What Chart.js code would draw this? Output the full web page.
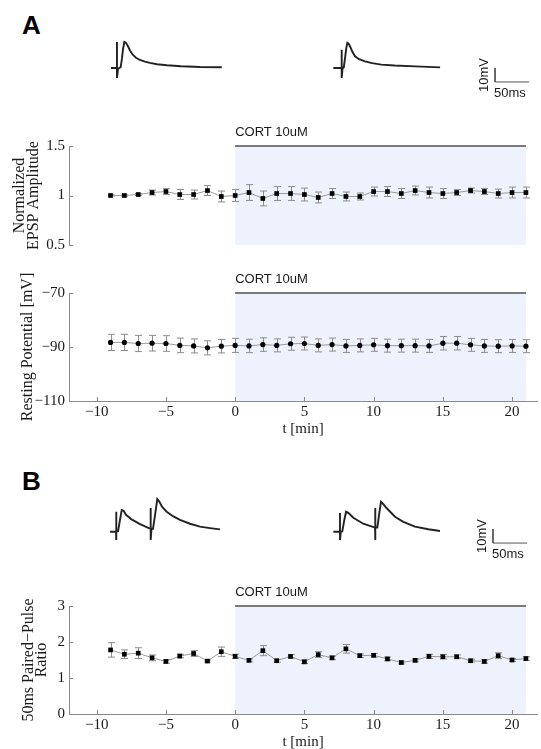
<!DOCTYPE html>
<html>
<head>
<meta charset="utf-8">
<script src="https://cdn.jsdelivr.net/npm/chart.js@4.4.1/dist/chart.umd.min.js"></script>
<style>
  body { margin: 0; background: #fff; }
  #fig { position: relative; width: 541px; height: 749px; overflow: hidden; font-family: "Liberation Sans", Arial, sans-serif; }
  #fig canvas { position: absolute; left: 0; }
  .tag { position: absolute; left: 22px; font-weight: bold; font-size: 26px; line-height: 1; color: #000; }
</style>
</head>
<body>
<div id="fig">
  <div class="tag" style="top:12px">A</div>
  <canvas id="traceA" width="541" height="70" style="top:30px"></canvas>
  <canvas id="epsp" width="541" height="140" style="top:118px"></canvas>
  <canvas id="rest" width="541" height="180" style="top:265px"></canvas>
  <div class="tag" style="top:468px">B</div>
  <canvas id="traceB" width="541" height="70" style="top:490px"></canvas>
  <canvas id="ppr" width="541" height="180" style="top:578px"></canvas>
</div>
<script>
// time points, minutes
const minutes = [-9, -8, -7, -6, -5, -4, -3, -2, -1, 0, 1, 2, 3, 4, 5, 6, 7, 8, 9, 10,
  11, 12, 13, 14, 15, 16, 17, 18, 19, 20, 21];

// normalized EPSP amplitude + sem
const epspAmp = [1.00, 1.00, 1.01, 1.03, 1.04, 1.01, 1.01, 1.05, 0.99, 1.00, 1.03, 0.97, 1.02, 1.02,
  1.01, 0.98, 1.02, 0.99, 0.99, 1.04, 1.04, 1.02, 1.05, 1.03, 1.02, 1.03, 1.05, 1.04, 1.02, 1.03, 1.03];
const epspErr = [0.005, 0.005, 0.01, 0.025, 0.03, 0.05, 0.045, 0.05, 0.055, 0.06, 0.08, 0.075, 0.07, 0.07,
  0.065, 0.055, 0.05, 0.045, 0.035, 0.045, 0.05, 0.05, 0.045, 0.055, 0.05, 0.03, 0.025, 0.03, 0.045, 0.055, 0.055];

// resting potential (mV) + sem
const restPot = [-88.3, -88.3, -88.7, -88.6, -88.7, -89.4, -89.6, -90.3, -89.7, -89.4, -89.6, -89.1, -89.4, -88.8,
  -88.7, -89.4, -89.1, -89.6, -89.4, -89.2, -89.5, -89.5, -89.5, -89.6, -88.6, -88.6, -89.2, -89.6, -89.7, -89.6, -89.7];
const restErr = [3.0, 3.0, 3.0, 2.9, 2.9, 2.7, 2.6, 2.6, 2.5, 2.6, 2.5, 2.5, 2.4, 2.4,
  2.4, 2.4, 2.4, 2.4, 2.4, 2.4, 2.4, 2.4, 2.4, 2.4, 2.5, 2.5, 2.4, 2.4, 2.4, 2.4, 2.4];

// 50ms paired-pulse ratio + sem
const pprRatio = [1.78, 1.66, 1.69, 1.56, 1.46, 1.61, 1.68, 1.47, 1.73, 1.60, 1.49, 1.76, 1.48, 1.60,
  1.45, 1.65, 1.56, 1.81, 1.62, 1.63, 1.53, 1.43, 1.49, 1.60, 1.59, 1.59, 1.48, 1.46, 1.62, 1.50, 1.54];
const pprErr = [0.2, 0.12, 0.15, 0.08, 0.05, 0.05, 0.08, 0.03, 0.13, 0.06, 0.04, 0.14, 0.04, 0.05,
  0.05, 0.08, 0.05, 0.12, 0.05, 0.05, 0.05, 0.04, 0.04, 0.06, 0.06, 0.05, 0.04, 0.05, 0.08, 0.04, 0.05];

const xTicks = [-10, -5, 0, 5, 10, 15, 20];
const epspTicks = [0.5, 1, 1.5];
const restTicks = [-110, -90, -70];
const pprTicks = [0, 1, 2, 3];

const drugStart = 0, drugEnd = 21;
const drugLabel = "CORT 10uM";

// example traces: ms from trace start, mV from baseline
const a1T = [0, 8.8, 8.8, 8.8, 10.5, 14.3, 16.2, 17.6, 19.6, 22, 25, 28, 32.3, 36.8, 42.6, 50, 57.3, 67.6, 82.3, 103, 131, 163];
const a1V = [0, 0, 18.6, -7.1, -0.5, 0.5, 7, 13, 18.6, 18, 15.5, 12.5, 9.3, 7.3, 5.7, 4.5, 3.6, 2.6, 1.9, 1.2, 0.7, 0.5];
const a2T = [0, 12.3, 12.3, 12.3, 13.5, 15.4, 17.5, 19, 20.6, 22.5, 25, 28, 31.9, 38, 46.6, 57, 70.6, 90, 120.5, 157];
const a2V = [0, 0, 13, -7.1, -0.5, 0.5, 8, 14, 17.9, 17.3, 15, 11.5, 8.3, 6.2, 4.7, 3.4, 2.4, 1.7, 1.1, 0.4];
const b1T = [0, 8.8, 8.8, 8.8, 10, 11.8, 14.5, 17.2, 20, 23.5, 32.3, 44.1, 57.8, 59.8, 59.8, 59.8, 61, 63.2, 66.5,
  69.5, 72.5, 76.4, 83.3, 92.6, 102.9, 117.6, 132.3, 147, 161.7];
const b1V = [0, 0, 14.3, -5.9, 0, 0.3, 8, 15.5, 15, 12.1, 8.6, 5.4, 2.4, 2.4, 16.9, -5.9, 2.2, 2.1, 13,
  23.3, 21.5, 17.9, 14.3, 11.1, 8.4, 5.7, 3.6, 2.6, 1.7];
const b2T = [0, 9.8, 9.8, 9.8, 11, 13.2, 16, 18.7, 22, 29.4, 44, 60.3, 61.3, 61.3, 61.3, 62.5, 64.7, 67.5,
  70.1, 73, 77.9, 90.7, 102.9, 120.1, 139.7, 156.8];
const b2V = [0, 0, 13.4, -5.9, 0, 0.3, 8, 14.3, 13.5, 10, 5.7, 3.1, 3.1, 16.9, -5.9, 3, 3, 13,
  21.4, 20, 17.1, 10.7, 7.1, 3.6, 1.8, 0.5];
const barMv = 10, barMs = 50;

const SERIF = '"Liberation Serif", "Times New Roman", serif';
const SANS = '"Liberation Sans", Arial, sans-serif';
const AXIS = "#8a8a8a";
const INK = "#1a1a1a";

const fmt = (v) => (v < 0 ? "\u2212" + Math.abs(v) : String(v));

const figPlugin = {
  id: "fig",
  beforeDraw(chart, args, opts) {
    if (!opts.drug) return;
    const { ctx, chartArea: a, scales: { x } } = chart;
    const x0 = x.getPixelForValue(drugStart), x1 = x.getPixelForValue(drugEnd);
    ctx.save();
    ctx.fillStyle = "rgb(237,242,252)";
    ctx.fillRect(x0, a.top, x1 - x0, a.bottom - a.top);
    ctx.restore();
  },
  beforeDatasetsDraw(chart) {
    const { ctx, scales: { x, y } } = chart;
    ctx.save();
    ctx.strokeStyle = "#8c8c8c";
    ctx.lineWidth = 1;
    chart.data.datasets.forEach((ds) => {
      if (!ds.errors) return;
      ds.data.forEach((p, j) => {
        const e = ds.errors[j];
        const px = Math.round(x.getPixelForValue(p.x)) + 0.5;
        const top = y.getPixelForValue(p.y + e), bot = y.getPixelForValue(p.y - e);
        ctx.beginPath();
        ctx.moveTo(px, top); ctx.lineTo(px, bot);
        ctx.moveTo(px - 3.5, top); ctx.lineTo(px + 3.5, top);
        ctx.moveTo(px - 3.5, bot); ctx.lineTo(px + 3.5, bot);
        ctx.stroke();
      });
    });
    ctx.restore();
  },
  afterDraw(chart, args, opts) {
    const { ctx, chartArea: a, scales: { x, y } } = chart;
    ctx.save();
    if (opts.drug) {
      // inward ticks
      ctx.strokeStyle = AXIS;
      ctx.lineWidth = 1;
      ctx.beginPath();
      y.ticks.forEach((t) => {
        const py = Math.round(y.getPixelForValue(t.value)) + 0.5;
        ctx.moveTo(a.left, py); ctx.lineTo(a.left + 4, py);
      });
      if (x.options.display) {
        x.ticks.forEach((t) => {
          const px = Math.round(x.getPixelForValue(t.value)) + 0.5;
          ctx.moveTo(px, a.bottom); ctx.lineTo(px, a.bottom - 4);
        });
      }
      ctx.stroke();
      // drug application bar + label
      const x0 = x.getPixelForValue(drugStart), x1 = x.getPixelForValue(drugEnd);
      ctx.strokeStyle = "#7a7a7a";
      ctx.lineWidth = 2;
      ctx.beginPath();
      ctx.moveTo(x0, a.top); ctx.lineTo(x1, a.top);
      ctx.stroke();
      ctx.fillStyle = INK;
      ctx.font = "13px " + SANS;
      ctx.textAlign = "left";
      ctx.textBaseline = "middle";
      ctx.fillText(drugLabel, x0, a.top - 14);
    }
    if (opts.bar) {
      const bx = x.getPixelForValue(opts.bar.t);
      const by = y.getPixelForValue(opts.bar.v);
      const byTop = y.getPixelForValue(opts.bar.v + barMv);
      ctx.fillStyle = INK;
      ctx.font = "13px " + SANS;
      ctx.textAlign = "left";
      ctx.textBaseline = "middle";
      ctx.fillText(barMs + "ms", bx - 1, by + 11);
      ctx.translate(bx - 11, (by + byTop) / 2);
      ctx.rotate(-Math.PI / 2);
      ctx.textAlign = "center";
      ctx.fillText(barMv + "mV", 0, 0);
    }
    ctx.restore();
  }
};

function yAxis(lo, hi, ticks, title, titlePad) {
  return {
    min: lo, max: hi,
    afterBuildTicks: (s) => { s.ticks = ticks.map((v) => ({ value: v })); },
    afterFit: (s) => { s.width = 69; },
    grid: { display: false, drawTicks: false },
    border: { color: AXIS },
    ticks: { padding: 4, color: INK, font: { family: SERIF, size: 15 }, callback: fmt },
    title: { display: true, text: title, color: INK, font: { family: SERIF, size: 16, lineHeight: 0.85 },
      padding: { top: titlePad, bottom: 0 } }
  };
}

function xAxis(show) {
  return {
    type: "linear", min: -12, max: 21.8, display: show,
    afterBuildTicks: (s) => { s.ticks = xTicks.map((v) => ({ value: v })); },
    afterFit: (s) => { s.height = show ? 44 : 0; },
    grid: { display: false, drawTicks: false },
    border: { color: AXIS },
    ticks: { padding: 2, color: INK, font: { family: SERIF, size: 15 }, callback: fmt, maxRotation: 0, autoSkip: false },
    title: { display: true, text: "t [min]", color: INK, font: { family: SERIF, size: 15, lineHeight: 1.2 },
      padding: { top: 0, bottom: 7 } }
  };
}

function panel(id, values, errors, style, radius, y, showX, pad) {
  new Chart(document.getElementById(id), {
    type: "line",
    data: {
      datasets: [{
        data: minutes.map((m, i) => ({ x: m, y: values[i] })),
        errors: errors,
        borderColor: "#9a9a9a",
        borderWidth: 1,
        pointStyle: style,
        pointRadius: radius,
        pointBorderWidth: 0,
        pointBackgroundColor: "#000",
        tension: 0,
        clip: false
      }]
    },
    options: {
      responsive: false, animation: false, devicePixelRatio: 1,
      layout: { padding: pad },
      scales: { x: xAxis(showX), y: y },
      plugins: { legend: { display: false }, tooltip: { enabled: false }, fig: { drug: true } }
    },
    plugins: [figPlugin]
  });
}

function traceChart(id, traces, yMin, yMax, bar) {
  const datasets = traces.map((tr) => ({
    data: tr.t.map((t, i) => ({ x: tr.start + t, y: tr.v[i] })),
    borderColor: "#222", borderWidth: 1.9, pointRadius: 0, tension: 0, clip: false
  }));
  datasets.push({
    data: [{ x: bar.t, y: bar.v + barMv }, { x: bar.t, y: bar.v }, { x: bar.t + barMs, y: bar.v }],
    borderColor: "#555", borderWidth: 1, pointRadius: 0, tension: 0, clip: false
  });
  new Chart(document.getElementById(id), {
    type: "line",
    data: { datasets },
    options: {
      responsive: false, animation: false, devicePixelRatio: 1,
      layout: { padding: 0 },
      scales: {
        x: { type: "linear", min: 0, max: 795.6, display: false },
        y: { min: yMin, max: yMax, display: false }
      },
      plugins: { legend: { display: false }, tooltip: { enabled: false }, fig: { bar: bar } }
    },
    plugins: [figPlugin]
  });
}

traceChart("traceA", [{ start: 163.2, t: a1T, v: a1V }, { start: 490.2, t: a2T, v: a2V }], -22.9, 27.1, { t: 728, v: -10 });
panel("epsp", epspAmp, epspErr, "rect", 3.3,
  yAxis(0.5, 1.5, epspTicks, ["Normalized", "EPSP Amplitude"], 13.2), false, { top: 28, bottom: 5 });
panel("rest", restPot, restErr, "circle", 2.6,
  yAxis(-110, -70, restTicks, "Resting Potential [mV]", 20.8), true, { top: 28 });
traceChart("traceB", [{ start: 161.8, t: b1T, v: b1V }, { start: 490.2, t: b2T, v: b2V }], -20.2, 29.8, { t: 725, v: -8.1 });
panel("ppr", pprRatio, pprErr, "rect", 3.3,
  yAxis(0, 3, pprTicks, ["50ms Paired\u2212Pulse", "Ratio"], 21.7), true, { top: 28 });
</script>
</body>
</html>
